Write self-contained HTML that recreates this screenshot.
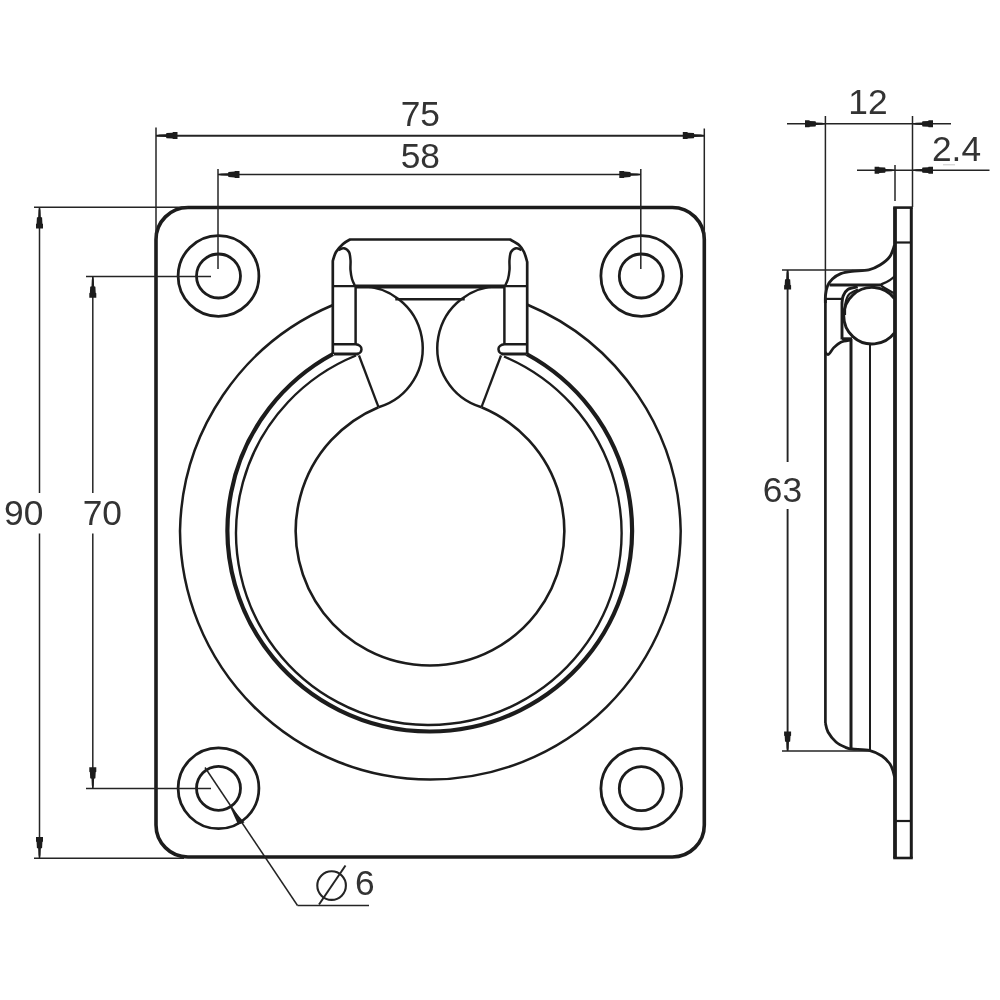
<!DOCTYPE html>
<html><head><meta charset="utf-8"><title>Ring pull dimensions</title>
<style>
html,body{margin:0;padding:0;background:#fff;}
body{width:1000px;height:1000px;overflow:hidden;}
svg{display:block;filter:grayscale(1);font-family:"Liberation Sans",Arial,sans-serif;}
</style></head><body>
<svg width="1000" height="1000" viewBox="0 0 1000 1000" stroke-linecap="butt" stroke-linejoin="round">
<rect width="1000" height="1000" fill="#fff"/>
<rect x="156" y="207.5" width="548.3" height="649.5" rx="32" ry="32" fill="none" stroke="#1c1c1c" stroke-width="3.6"/>
<circle cx="218.5" cy="276" r="40.4" fill="none" stroke="#1c1c1c" stroke-width="2.8"/>
<circle cx="218.5" cy="276" r="22.0" fill="none" stroke="#1c1c1c" stroke-width="2.8"/>
<circle cx="641.3" cy="276" r="40.4" fill="none" stroke="#1c1c1c" stroke-width="2.8"/>
<circle cx="641.3" cy="276" r="22.0" fill="none" stroke="#1c1c1c" stroke-width="2.8"/>
<circle cx="218.5" cy="788.3" r="40.4" fill="none" stroke="#1c1c1c" stroke-width="2.8"/>
<circle cx="218.5" cy="788.3" r="22.0" fill="none" stroke="#1c1c1c" stroke-width="2.8"/>
<circle cx="641.3" cy="788.6" r="40.4" fill="none" stroke="#1c1c1c" stroke-width="2.8"/>
<circle cx="641.3" cy="788.6" r="22.0" fill="none" stroke="#1c1c1c" stroke-width="2.8"/>
<path d="M333,305 A250,250 0 0 0 180,531 A250.5,250.5 0 0 0 430.25,779.5 A250.5,250.5 0 0 0 680.7,531 A250,250 0 0 0 527,304.5" fill="none" stroke="#1c1c1c" stroke-width="2.5" />
<path d="M333,354 A202.3,201 0 1 0 526.5,354" fill="none" stroke="#1c1c1c" stroke-width="4.2" />
<path d="M356,355.5 A192.75,191.85 0 1 0 504,356.5" fill="none" stroke="#1c1c1c" stroke-width="2.4" />
<path d="M378.5,407.2 A134.3,134.3 0 1 0 481.5,407.2" fill="none" stroke="#1c1c1c" stroke-width="2.6" />
<path d="M356.5,286.5 A61.7,61.7 0 0 1 378.5,407.2" fill="none" stroke="#1c1c1c" stroke-width="2.5" />
<path d="M503.5,286.5 A61.7,61.7 0 0 0 481.5,407.2" fill="none" stroke="#1c1c1c" stroke-width="2.5" />
<path d="M359,355.5 L378.5,407.2" fill="none" stroke="#1c1c1c" stroke-width="2.3" />
<path d="M501,355.5 L481.5,407.2" fill="none" stroke="#1c1c1c" stroke-width="2.3" />
<path d="M332.8,354 L332.8,261  C333.3,259.5 334.3,254.8 336.0,252.0 C337.7,249.2 340.7,246.1 343.0,244.0 C345.3,241.9 348.8,240.2 350.0,239.5 L510,239.5  C511.5,240.4 516.7,242.9 519.0,245.0 C521.3,247.1 522.6,249.2 524.0,252.0 C525.4,254.8 526.7,260.3 527.2,262.0 L527.2,354" fill="none" stroke="#1c1c1c" stroke-width="2.7" />
<path d="M338.5,250.0 C339.4,249.7 342.2,248.0 344.0,248.3 C345.8,248.6 347.9,250.1 349.0,252.0 C350.1,253.9 350.2,257.0 350.5,260.0 C350.8,263.0 350.2,266.8 350.5,270.0 C350.8,273.2 351.2,276.3 352.0,279.0 C352.8,281.7 354.5,284.8 355.0,286.0" fill="none" stroke="#1c1c1c" stroke-width="2.5" />
<path d="M521.5,250.0 C520.6,249.7 517.8,248.0 516.0,248.3 C514.2,248.6 512.1,250.1 511.0,252.0 C509.9,253.9 509.8,257.0 509.5,260.0 C509.2,263.0 509.8,266.8 509.5,270.0 C509.2,273.2 508.8,276.3 508.0,279.0 C507.2,281.7 505.5,284.8 505.0,286.0" fill="none" stroke="#1c1c1c" stroke-width="2.5" />
<path d="M332.8,286.2 L527.2,286.2" fill="none" stroke="#1c1c1c" stroke-width="2.3" />
<path d="M355.5,286.6 L504.5,286.6" fill="none" stroke="#1c1c1c" stroke-width="4.0" />
<path d="M395.3,299.2 L464.7,299.2" fill="none" stroke="#1c1c1c" stroke-width="2.5" />
<path d="M355.6,286 L355.6,344.3" fill="none" stroke="#1c1c1c" stroke-width="2.5" />
<path d="M504.4,286 L504.4,344.3" fill="none" stroke="#1c1c1c" stroke-width="2.5" />
<path d="M332.8,344.3 L355.5,344.3 C359,344.6 361.8,346.5 361.5,349.5 C361.3,352 359.5,353.5 357.5,354" fill="none" stroke="#1c1c1c" stroke-width="2.5" />
<path d="M334,354 L358.5,354" fill="none" stroke="#1c1c1c" stroke-width="3.0" />
<path d="M527.2,344.3 L504.5,344.3 C501,344.6 498.2,346.5 498.5,349.5 C498.7,352 500.5,353.5 502.5,354" fill="none" stroke="#1c1c1c" stroke-width="2.5" />
<path d="M526,354 L501.5,354" fill="none" stroke="#1c1c1c" stroke-width="3.0" />
<line x1="156" y1="127.5" x2="156" y2="240" stroke="#242424" stroke-width="1.5"/>
<line x1="704.3" y1="128.5" x2="704.3" y2="240" stroke="#242424" stroke-width="1.5"/>
<line x1="156" y1="135.7" x2="704.3" y2="135.7" stroke="#242424" stroke-width="1.9"/>
<polygon points="156.5,135.2 159.5,134.6 166.0,134.3 166.5,133.0 172.5,132.7 172.9,132.1 177.5,132.1 177.5,139.1 172.9,139.1 172.5,138.5 166.5,138.2 166.0,136.9 159.5,136.6 156.5,136.0" fill="#1c1c1c"/>
<polygon points="703.8,136.0 700.8,136.6 694.3,136.9 693.8,138.2 687.8,138.5 687.4,139.1 682.8,139.1 682.8,132.1 687.4,132.1 687.8,132.7 693.8,133.0 694.3,134.3 700.8,134.6 703.8,135.2" fill="#1c1c1c"/>
<text x="420.3" y="126" font-size="35.3" text-anchor="middle" fill="#333">75</text>
<line x1="218" y1="169" x2="218" y2="269" stroke="#242424" stroke-width="1.5"/>
<line x1="640.8" y1="169" x2="640.8" y2="269" stroke="#242424" stroke-width="1.5"/>
<line x1="218" y1="174.5" x2="640.8" y2="174.5" stroke="#242424" stroke-width="1.5"/>
<polygon points="218.5,174.1 221.5,173.5 228.0,173.2 228.5,171.9 234.5,171.6 234.9,171.0 239.5,171.0 239.5,178.0 234.9,178.0 234.5,177.4 228.5,177.1 228.0,175.8 221.5,175.5 218.5,174.9" fill="#1c1c1c"/>
<polygon points="640.3,174.9 637.3,175.5 630.8,175.8 630.3,177.1 624.3,177.4 623.9,178.0 619.3,178.0 619.3,171.0 623.9,171.0 624.3,171.6 630.3,171.9 630.8,173.2 637.3,173.5 640.3,174.1" fill="#1c1c1c"/>
<text x="420.3" y="168.3" font-size="35.3" text-anchor="middle" fill="#333">58</text>
<line x1="34" y1="207.2" x2="188" y2="207.2" stroke="#242424" stroke-width="1.5"/>
<line x1="34" y1="858.3" x2="184" y2="858.3" stroke="#242424" stroke-width="1.5"/>
<line x1="39.5" y1="207" x2="39.5" y2="493" stroke="#242424" stroke-width="1.5"/>
<line x1="39.5" y1="533.5" x2="39.5" y2="858" stroke="#242424" stroke-width="1.5"/>
<polygon points="39.9,207.6 40.5,210.6 40.8,217.1 42.1,217.6 42.4,223.6 43.0,224.0 43.0,228.6 36.0,228.6 36.0,224.0 36.6,223.6 36.9,217.6 38.2,217.1 38.5,210.6 39.1,207.6" fill="#1c1c1c"/>
<polygon points="39.1,857.9 38.5,854.9 38.2,848.4 36.9,847.9 36.6,841.9 36.0,841.5 36.0,836.9 43.0,836.9 43.0,841.5 42.4,841.9 42.1,847.9 40.8,848.4 40.5,854.9 39.9,857.9" fill="#1c1c1c"/>
<text x="23.7" y="525" font-size="35.3" text-anchor="middle" fill="#333">90</text>
<line x1="86" y1="276.4" x2="211" y2="276.4" stroke="#242424" stroke-width="1.5"/>
<line x1="86" y1="788.6" x2="211" y2="788.6" stroke="#242424" stroke-width="1.5"/>
<line x1="92.8" y1="276.4" x2="92.8" y2="493" stroke="#242424" stroke-width="1.5"/>
<line x1="92.8" y1="533.5" x2="92.8" y2="788.6" stroke="#242424" stroke-width="1.5"/>
<polygon points="93.2,276.8 93.8,279.8 94.1,286.3 95.4,286.8 95.7,292.8 96.3,293.2 96.3,297.8 89.3,297.8 89.3,293.2 89.9,292.8 90.2,286.8 91.5,286.3 91.8,279.8 92.4,276.8" fill="#1c1c1c"/>
<polygon points="92.4,788.2 91.8,785.2 91.5,778.7 90.2,778.2 89.9,772.2 89.3,771.8 89.3,767.2 96.3,767.2 96.3,771.8 95.7,772.2 95.4,778.2 94.1,778.7 93.8,785.2 93.2,788.2" fill="#1c1c1c"/>
<text x="102.3" y="525" font-size="35.3" text-anchor="middle" fill="#333">70</text>
<line x1="205" y1="767.5" x2="297.5" y2="905.5" stroke="#242424" stroke-width="1.5"/>
<line x1="297.5" y1="905.5" x2="369" y2="905.5" stroke="#242424" stroke-width="1.5"/>
<polygon points="229.5,805.5 238,824.5 244.5,822.5" fill="#1c1c1c"/>
<circle cx="331.6" cy="885.6" r="14.3" fill="none" stroke="#242424" stroke-width="2.1"/>
<line x1="319" y1="904.5" x2="345.5" y2="865.5" stroke="#242424" stroke-width="2.0"/>
<text x="364.7" y="895" font-size="35.3" text-anchor="middle" fill="#333">6</text>
<path d="M895,207.6 L895,858" fill="none" stroke="#1c1c1c" stroke-width="3.8" />
<path d="M911.3,207.6 L911.3,858" fill="none" stroke="#1c1c1c" stroke-width="3.0" />
<path d="M893.2,207.6 L912.8,207.6" fill="none" stroke="#1c1c1c" stroke-width="2.6" />
<path d="M893.2,858 L912.8,858" fill="none" stroke="#1c1c1c" stroke-width="2.6" />
<path d="M895,242.5 L911.3,242.5" fill="none" stroke="#1c1c1c" stroke-width="2.2" />
<path d="M895,821 L911.3,821" fill="none" stroke="#1c1c1c" stroke-width="2.2" />
<path d="M894.5,245.4 C893.7,247.3 892.2,253.3 889.8,256.6 C887.4,259.9 883.5,262.8 880.0,265.0 C876.5,267.2 873.5,268.8 868.8,269.8 C864.1,270.9 856.7,270.7 852.0,271.3 C847.3,271.9 844.1,272.3 840.8,273.6 C837.5,274.9 834.6,276.9 832.4,279.0 C830.2,281.1 828.6,283.4 827.5,286.0 C826.4,288.6 826.0,291.6 825.6,294.4 C825.2,297.2 825.4,301.6 825.4,303.0" fill="none" stroke="#1c1c1c" stroke-width="2.9" />
<path d="M825.4,300 L825.4,723" fill="none" stroke="#1c1c1c" stroke-width="2.7" />
<path d="M851,339 L851,749" fill="none" stroke="#1c1c1c" stroke-width="3.0" />
<path d="M870,344 L870,751" fill="none" stroke="#1c1c1c" stroke-width="2.0" />
<path d="M829.6,284.9 L880,284.9" fill="none" stroke="#1c1c1c" stroke-width="3.0" />
<path d="M880.0,284.9 C881.4,284.2 886.0,282.4 888.4,281.0 C890.8,279.6 893.5,277.2 894.5,276.5" fill="none" stroke="#1c1c1c" stroke-width="2.2" />
<path d="M880.0,284.9 C881.0,285.5 883.6,287.4 886.0,288.8 C888.4,290.2 893.1,292.7 894.5,293.5" fill="none" stroke="#1c1c1c" stroke-width="2.2" />
<path d="M825.4,298.9 L841.8,298.9" fill="none" stroke="#1c1c1c" stroke-width="2.2" />
<path d="M857.6,286.7 C856.0,287.2 850.2,288.0 847.8,289.5 C845.4,291.0 844.2,293.6 843.2,295.8 C842.2,298.0 842.2,301.6 842.0,302.8 L842,339.5" fill="none" stroke="#1c1c1c" stroke-width="2.9" />
<path d="M858.0,289.5 C856.5,290.3 851.1,292.2 849.0,294.5 C846.9,296.8 846.2,299.6 845.5,303.0 C844.8,306.4 845.1,313.0 845.0,315.0" fill="none" stroke="#1c1c1c" stroke-width="2.2" />
<path d="M894.5,298.5 A28.3,28.3 0 1 0 894.5,332.9" fill="none" stroke="#1c1c1c" stroke-width="2.9" />
<path d="M842,338.8 L852,338.8" fill="none" stroke="#1c1c1c" stroke-width="3.0" />
<path d="M851.0,340.0 C849.3,340.4 843.7,340.9 840.8,342.2 C837.9,343.5 835.8,345.6 833.8,347.6 C831.8,349.6 830.0,353.6 828.6,354.4 C827.2,355.2 825.9,352.8 825.4,352.5" fill="none" stroke="#1c1c1c" stroke-width="2.7" />
<path d="M825.4,723.0 C825.8,724.5 826.2,728.8 828.0,732.0 C829.8,735.2 833.0,739.4 836.0,742.0 C839.0,744.6 843.3,746.4 846.0,747.6 C848.7,748.8 848.0,748.5 852.0,749.0 C856.0,749.5 865.0,749.4 870.0,750.6 C875.0,751.8 878.7,753.8 882.0,756.0 C885.3,758.2 888.1,761.3 890.0,764.0 C891.9,766.7 892.5,769.8 893.3,772.0 C894.0,774.2 894.3,776.2 894.5,777.0" fill="none" stroke="#1c1c1c" stroke-width="2.8" />
<line x1="825.4" y1="116" x2="825.4" y2="300" stroke="#242424" stroke-width="1.5"/>
<line x1="912.5" y1="116" x2="912.5" y2="207" stroke="#242424" stroke-width="1.5"/>
<line x1="787" y1="123.8" x2="951" y2="123.8" stroke="#242424" stroke-width="1.5"/>
<polygon points="825.0,124.2 822.1,124.8 816.0,125.1 815.5,126.4 809.8,126.7 809.4,127.3 805.0,127.3 805.0,120.3 809.4,120.3 809.8,120.9 815.5,121.2 816.0,122.5 822.1,122.8 825.0,123.4" fill="#1c1c1c"/>
<polygon points="913.0,123.4 915.9,122.8 922.0,122.5 922.5,121.2 928.2,120.9 928.6,120.3 933.0,120.3 933.0,127.3 928.6,127.3 928.2,126.7 922.5,126.4 922.0,125.1 915.9,124.8 913.0,124.2" fill="#1c1c1c"/>
<text x="868" y="113.5" font-size="35.3" text-anchor="middle" fill="#333">12</text>
<line x1="895" y1="165" x2="895" y2="201" stroke="#242424" stroke-width="1.5"/>
<line x1="857" y1="170.2" x2="989.5" y2="170.2" stroke="#242424" stroke-width="1.5"/>
<polygon points="894.6,170.6 891.7,171.2 885.6,171.5 885.1,172.8 879.4,173.1 879.0,173.7 874.6,173.7 874.6,166.7 879.0,166.7 879.4,167.3 885.1,167.6 885.6,168.9 891.7,169.2 894.6,169.8" fill="#1c1c1c"/>
<polygon points="913.0,169.8 915.9,169.2 922.0,168.9 922.5,167.6 928.2,167.3 928.6,166.7 933.0,166.7 933.0,173.7 928.6,173.7 928.2,173.1 922.5,172.8 922.0,171.5 915.9,171.2 913.0,170.6" fill="#1c1c1c"/>
<text x="956.5" y="161.3" font-size="35.3" text-anchor="middle" fill="#333">2.4</text>
<line x1="943" y1="164.8" x2="955" y2="164.8" stroke="#c8c8c8" stroke-width="1.0"/>
<line x1="782" y1="270" x2="870" y2="270" stroke="#242424" stroke-width="1.5"/>
<line x1="782" y1="751" x2="870" y2="751" stroke="#242424" stroke-width="1.5"/>
<line x1="787.6" y1="270" x2="787.6" y2="462" stroke="#242424" stroke-width="1.9"/>
<line x1="787.6" y1="509" x2="787.6" y2="751" stroke="#242424" stroke-width="1.9"/>
<polygon points="788.0,270.4 788.6,273.1 788.9,279.0 790.2,279.4 790.5,284.9 791.1,285.2 791.1,289.4 784.1,289.4 784.1,285.2 784.7,284.9 785.0,279.4 786.3,279.0 786.6,273.1 787.2,270.4" fill="#1c1c1c"/>
<polygon points="787.2,750.6 786.6,747.9 786.3,742.0 785.0,741.6 784.7,736.1 784.1,735.8 784.1,731.6 791.1,731.6 791.1,735.8 790.5,736.1 790.2,741.6 788.9,742.0 788.6,747.9 788.0,750.6" fill="#1c1c1c"/>
<text x="782.5" y="502" font-size="35.3" text-anchor="middle" fill="#333">63</text>
</svg>
</body></html>
